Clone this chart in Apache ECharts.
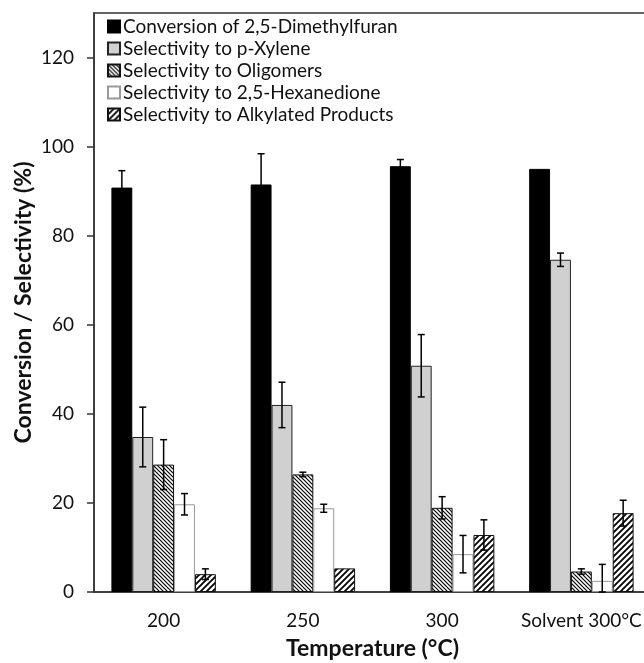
<!DOCTYPE html>
<html><head><meta charset="utf-8">
<script src="https://cdn.jsdelivr.net/npm/echarts@6/dist/echarts.min.js"></script>
<style>html,body{margin:0;padding:0;background:#fff}#c{width:644px;height:663px}</style>
</head><body><div id="c"></div>
<script>
const categories = ['200', '250', '300', 'Solvent 300°C'];
const seriesNames = ['Conversion of 2,5-Dimethylfuran', 'Selectivity to p-Xylene', 'Selectivity to Oligomers', 'Selectivity to 2,5-Hexanedione', 'Selectivity to Alkylated Products'];
const conversion = [90.8, 91.5, 95.6, 95.0];
const conversionErr = [3.8, 6.9, 1.5, 0];
const pXylene = [34.8, 42.0, 50.8, 74.6];
const pXyleneErr = [6.7, 5.1, 7.0, 1.5];
const oligomers = [28.6, 26.4, 18.9, 4.6];
const oligomersErr = [5.6, 0.5, 2.5, 0.6];
const hexanedione = [19.7, 18.8, 8.5, 2.5];
const hexanedioneErr = [2.4, 0.9, 4.2, 3.7];
const alkylated = [4.0, 5.3, 12.8, 17.7];
const alkylatedErr = [1.2, 0, 3.4, 2.9];
const yTicks = [0, 20, 40, 60, 80, 100, 120];

const values = [conversion, pXylene, oligomers, hexanedione, alkylated];
const errors = [conversionErr, pXyleneErr, oligomersErr, hexanedioneErr, alkylatedErr];

function hatch(size, dir, lw) {
  const c = document.createElement('canvas');
  c.width = size; c.height = size;
  const g = c.getContext('2d');
  g.fillStyle = '#fff'; g.fillRect(0, 0, size, size);
  g.strokeStyle = '#000'; g.lineWidth = lw;
  g.beginPath();
  for (let k = -1; k <= 1; k++) {
    if (dir === 'back') { g.moveTo(k * size - 1, -1); g.lineTo(k * size + size + 1, size + 1); }
    else { g.moveTo(k * size - 1, size + 1); g.lineTo(k * size + size + 1, -1); }
  }
  g.stroke();
  return c;
}
const fills = [
  '#000000',
  '#d0d0d0',
  { image: hatch(4, 'back', 1.2), repeat: 'repeat' },
  '#ffffff',
  { image: hatch(6, 'fwd', 1.8), repeat: 'repeat' }
];
const borders = ['#000000', '#222222', '#111111', '#9a9a9a', '#111111'];
const GAP = 0.25, N = 5;

function errRender(si) {
  return function (params, api) {
    const x = api.value(0), v = api.value(1), e = api.value(2);
    if (!e) return null;
    const band = api.size([1, 0])[0];
    const bw = band * (1 - GAP) / N;
    const cx = api.coord([x, v])[0] + (si - (N - 1) / 2) * bw;
    const hi = api.coord([x, v + e])[1];
    const lo = api.coord([x, Math.max(0, v - e)])[1];
    const cap = 3.5;
    const st = { stroke: '#000', lineWidth: 1.5 };
    return { type: 'group', children: [
      { type: 'line', shape: { x1: cx, y1: hi, x2: cx, y2: lo }, style: st },
      { type: 'line', shape: { x1: cx - cap, y1: hi, x2: cx + cap, y2: hi }, style: st },
      { type: 'line', shape: { x1: cx - cap, y1: lo, x2: cx + cap, y2: lo }, style: st }
    ] };
  };
}

const series = [];
values.forEach((arr, i) => {
  series.push({
    name: seriesNames[i], type: 'bar', data: arr,
    barGap: '0%', barCategoryGap: (GAP * 100) + '%',
    itemStyle: { color: fills[i], borderColor: borders[i], borderWidth: 1 },
    emphasis: { disabled: true }, silent: true
  });
});
values.forEach((arr, i) => {
  series.push({
    type: 'custom', name: 'err' + i, silent: true, z: 5,
    renderItem: errRender(i),
    data: arr.map((v, j) => [j, v, errors[i][j]])
  });
});

const font = 'Lato';
const chart = echarts.init(document.getElementById('c'), null, { renderer: 'canvas' });
chart.setOption({
  animation: false,
  backgroundColor: '#fff',
  textStyle: { fontFamily: font },
  grid: { left: 94, right: -7, top: 13, bottom: 71, show: true, borderColor: '#333', borderWidth: 1.5, containLabel: false, outerBoundsMode: 'none' },
  legend: {
    data: seriesNames, orient: 'vertical', left: 102, top: 12,
    icon: 'rect', itemWidth: 12, itemHeight: 12, itemGap: 3,
    textStyle: { fontFamily: font, fontSize: 19, color: '#111', padding: [0, 0, 0, -2] },
    selectedMode: false
  },
  xAxis: {
    type: 'category', data: categories,
    axisLine: { lineStyle: { color: '#333', width: 1.5 } },
    axisTick: { alignWithLabel: true, length: 7, lineStyle: { color: '#333', width: 1.5 } },
    axisLabel: { interval: 0, fontFamily: font, fontSize: 19, color: '#111', margin: 19 },
    name: 'Temperature (°C)', nameLocation: 'middle', nameGap: 45,
    nameTextStyle: { fontFamily: font, fontSize: 23, fontWeight: 'bold', color: '#111' }
  },
  yAxis: {
    type: 'value', min: 0, max: 130,
    splitLine: { show: false },
    axisLine: { show: true, lineStyle: { color: '#333', width: 1.5 } },
    axisTick: { show: true, length: 7, customValues: yTicks, lineStyle: { color: '#333', width: 1.5 } },
    axisLabel: { fontFamily: font, fontSize: 19, color: '#111', margin: 20, customValues: yTicks },
    name: 'Conversion / Selectivity (%)', nameLocation: 'middle', nameGap: 59, nameMoveOverlap: false,
    nameTextStyle: { fontFamily: font, fontSize: 23, fontWeight: 'bold', color: '#111' }
  },
  series: series
});
</script></body></html>
